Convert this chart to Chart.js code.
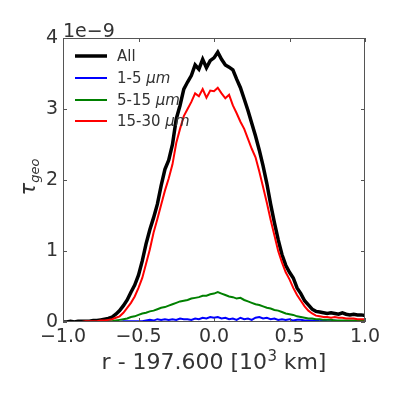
<!DOCTYPE html>
<html>
<head>
<meta charset="utf-8">
<script src="https://cdn.jsdelivr.net/npm/chart.js@4.4.0/dist/chart.umd.min.js"></script>
<style>
html,body{margin:0;padding:0;background:#fff;}
#wrap{width:399px;height:399px;position:relative;}
</style>
</head>
<body>
<div id="wrap"><canvas id="c" width="399" height="399"></canvas></div>
<script>
const xValues = [-1.000,-0.975,-0.950,-0.925,-0.900,-0.875,-0.850,-0.825,-0.800,-0.775,
-0.750,-0.725,-0.700,-0.675,-0.650,-0.625,-0.600,-0.575,-0.550,-0.525,
-0.500,-0.475,-0.450,-0.425,-0.400,-0.375,-0.350,-0.325,-0.300,-0.275,
-0.250,-0.225,-0.200,-0.175,-0.150,-0.125,-0.100,-0.075,-0.050,-0.025,
0.000,0.025,0.050,0.075,0.100,0.125,0.150,0.175,0.200,0.225,
0.250,0.275,0.300,0.325,0.350,0.375,0.400,0.425,0.450,0.475,
0.500,0.525,0.550,0.575,0.600,0.625,0.650,0.675,0.700,0.725,
0.750,0.775,0.800,0.825,0.850,0.875,0.900,0.925,0.950,0.975,1.000];

const allValues = [0.00,0.00,0.01,0.00,0.01,0.01,0.01,0.01,0.02,0.02,
0.03,0.04,0.05,0.07,0.11,0.16,0.23,0.31,0.42,0.52,
0.66,0.86,1.10,1.30,1.47,1.66,1.92,2.15,2.28,2.50,
2.86,3.05,3.28,3.38,3.47,3.62,3.56,3.70,3.58,3.68,
3.72,3.80,3.70,3.62,3.59,3.55,3.42,3.30,3.14,2.98,
2.80,2.62,2.42,2.20,1.95,1.66,1.40,1.16,0.95,0.80,
0.70,0.62,0.48,0.40,0.30,0.24,0.18,0.15,0.14,0.13,
0.12,0.13,0.12,0.11,0.13,0.11,0.10,0.11,0.10,0.10,0.09];

const small = [0.00,0.00,0.00,0.00,0.00,0.00,0.00,0.00,0.00,0.00,
0.00,0.00,0.01,0.00,0.01,0.00,0.01,0.01,0.01,0.01,
0.01,0.01,0.02,0.03,0.02,0.04,0.03,0.04,0.03,0.04,
0.03,0.05,0.04,0.04,0.03,0.05,0.04,0.06,0.05,0.07,
0.06,0.07,0.05,0.06,0.04,0.05,0.03,0.06,0.04,0.05,
0.03,0.06,0.07,0.05,0.06,0.04,0.05,0.03,0.04,0.03,
0.04,0.02,0.03,0.03,0.02,0.02,0.02,0.02,0.01,0.02,
0.01,0.01,0.02,0.01,0.01,0.01,0.01,0.01,0.01,0.01,0.01];

const medium = [0.00,0.00,0.00,0.00,0.00,0.00,0.00,0.00,0.00,0.00,
0.00,0.01,0.01,0.01,0.02,0.03,0.04,0.05,0.07,0.08,
0.10,0.12,0.13,0.15,0.16,0.18,0.20,0.21,0.23,0.25,
0.27,0.29,0.30,0.31,0.33,0.34,0.35,0.37,0.37,0.39,
0.40,0.42,0.40,0.38,0.36,0.35,0.33,0.34,0.31,0.29,
0.27,0.25,0.24,0.22,0.20,0.19,0.17,0.16,0.14,0.12,
0.11,0.10,0.08,0.07,0.06,0.05,0.05,0.04,0.04,0.03,
0.03,0.03,0.02,0.02,0.02,0.02,0.02,0.02,0.02,0.02,0.02];

const large = [0.00,0.00,0.00,0.00,0.00,0.00,0.01,0.01,0.01,0.01,
0.02,0.02,0.03,0.04,0.06,0.08,0.13,0.20,0.27,0.36,
0.48,0.62,0.82,1.02,1.26,1.45,1.65,1.85,2.02,2.22,
2.52,2.72,2.90,3.00,3.10,3.22,3.18,3.28,3.16,3.26,
3.25,3.30,3.22,3.15,3.20,3.05,2.94,2.82,2.72,2.58,
2.44,2.32,2.12,1.90,1.68,1.44,1.22,1.00,0.84,0.70,
0.60,0.48,0.38,0.30,0.22,0.16,0.12,0.09,0.08,0.07,
0.07,0.06,0.07,0.06,0.06,0.05,0.05,0.05,0.04,0.04,0.04];

const seriesNames = ['All', '1-5 ', '5-15 ', '15-30 '];
const seriesUnits = ['', 'μm', 'μm', 'μm'];
const xTicks = [-1.0, -0.5, 0.0, 0.5, 1.0];
const yTicks = [0, 1, 2, 3, 4];

const FONT = "'DejaVu Sans', sans-serif";
const TXT = '#333';

function pts(arr){ return xValues.map((x,i)=>({x:x, y:arr[i]})); }
function fmt(v){ const s = Math.abs(v).toFixed(1); return v < 0 ? '\u2212' + s : s; }

const colors = ['#000000', '#0000ff', '#008000', '#ff0000'];
const widths = [3.5, 2, 2, 2];
const series = [allValues, small, medium, large];

const datasets = series.map((arr, i) => ({
  label: seriesNames[i] + seriesUnits[i],
  data: pts(arr),
  borderColor: colors[i],
  borderWidth: widths[i],
  pointRadius: 0,
  fill: false,
  tension: 0,
  clip: 0,
  order: 4 - i
}));

const deco = {
  id: 'deco',
  afterDraw(chart){
    const ctx = chart.ctx;
    const a = chart.chartArea;
    const xs = chart.scales.x, ys = chart.scales.y;
    ctx.save();
    // frame
    ctx.strokeStyle = '#555';
    ctx.lineWidth = 1;
    ctx.strokeRect(Math.round(a.left)+0.5, Math.round(a.top)+0.5, Math.round(a.right-a.left)-1, Math.round(a.bottom-a.top)-1);
    // inward ticks on all sides
    const L = 4;
    ctx.beginPath();
    xTicks.forEach(v => {
      const px = Math.round(xs.getPixelForValue(v)) + 0.5;
      ctx.moveTo(px, a.bottom); ctx.lineTo(px, a.bottom - L);
      ctx.moveTo(px, a.top); ctx.lineTo(px, a.top + L);
    });
    yTicks.forEach(v => {
      const py = Math.round(ys.getPixelForValue(v)) + 0.5;
      ctx.moveTo(a.left, py); ctx.lineTo(a.left + L, py);
      ctx.moveTo(a.right, py); ctx.lineTo(a.right - L, py);
    });
    ctx.stroke();
    // offset text
    ctx.fillStyle = TXT;
    ctx.font = '19px ' + FONT;
    ctx.textAlign = 'left';
    ctx.textBaseline = 'alphabetic';
    ctx.fillText('1e\u22129', a.left, a.top - 1);
    // x title
    ctx.font = '22px ' + FONT;
    const p1 = 'r - 197.600 [10';
    const sup = '3';
    const p2 = ' km]';
    const w1 = ctx.measureText(p1).width;
    ctx.font = '15px ' + FONT;
    const ws = ctx.measureText(sup).width;
    ctx.font = '22px ' + FONT;
    const w2 = ctx.measureText(p2).width;
    const total = w1 + ws + w2;
    const cx = (a.left + a.right) / 2;
    let x0 = cx - total / 2;
    const by = 369;
    ctx.fillText(p1, x0, by);
    ctx.font = '15px ' + FONT;
    ctx.fillText(sup, x0 + w1 + 0.5, by - 8);
    ctx.font = '22px ' + FONT;
    ctx.fillText(p2, x0 + w1 + ws, by);
    // y title
    ctx.save();
    ctx.translate(35, (a.top + a.bottom) / 2 - 3);
    ctx.rotate(-Math.PI / 2);
    ctx.font = 'italic 21px ' + FONT;
    const wt = ctx.measureText('τ').width;
    ctx.font = 'italic 13px ' + FONT;
    const wg = ctx.measureText('geo').width;
    const sx = -(wt + wg) / 2;
    ctx.font = 'italic 21px ' + FONT;
    ctx.fillText('τ', sx, 0);
    ctx.font = 'italic 13px ' + FONT;
    ctx.fillText('geo', sx + wt, 4);
    ctx.restore();
    // legend
    const lx0 = 75, lx1 = 107, tx = 117;
    const ly = [56, 78, 100, 121];
    for (let i = 0; i < 4; i++) {
      ctx.beginPath();
      ctx.strokeStyle = colors[i];
      ctx.lineWidth = widths[i];
      ctx.moveTo(lx0, ly[i]); ctx.lineTo(lx1, ly[i]);
      ctx.stroke();
      ctx.fillStyle = TXT;
      ctx.textBaseline = 'middle';
      ctx.font = '15px ' + FONT;
      ctx.fillText(seriesNames[i], tx, ly[i] + 1);
      const wn = ctx.measureText(seriesNames[i]).width;
      if (seriesUnits[i]) {
        ctx.font = 'italic 15px ' + FONT;
        ctx.fillText(seriesUnits[i], tx + wn, ly[i] + 1);
      }
    }
    ctx.restore();
  }
};

new Chart(document.getElementById('c'), {
  type: 'line',
  data: { datasets: datasets },
  options: {
    responsive: false,
    animation: false,
    devicePixelRatio: 1,
    layout: { padding: { left: 0, right: 34, top: 38, bottom: 0 } },
    plugins: { legend: { display: false }, tooltip: { enabled: false } },
    scales: {
      x: {
        type: 'linear', min: -1, max: 1,
        afterBuildTicks(s){ s.ticks = xTicks.map(v => ({value: v})); },
        afterFit(s){ s.height = 77; },
        grid: { display: false, drawTicks: false },
        border: { display: false },
        ticks: { padding: 4, color: TXT, font: { family: FONT, size: 19 }, callback: v => fmt(v), maxRotation: 0, autoSkip: false }
      },
      y: {
        type: 'linear', min: 0, max: 4,
        afterBuildTicks(s){ s.ticks = yTicks.map(v => ({value: v})); },
        afterFit(s){ s.width = 63; },
        grid: { display: false, drawTicks: false },
        border: { display: false },
        ticks: { padding: 5, color: TXT, font: { family: FONT, size: 19 }, callback: v => String(v) }
      }
    }
  },
  plugins: [deco]
});
</script>
</body>
</html>
